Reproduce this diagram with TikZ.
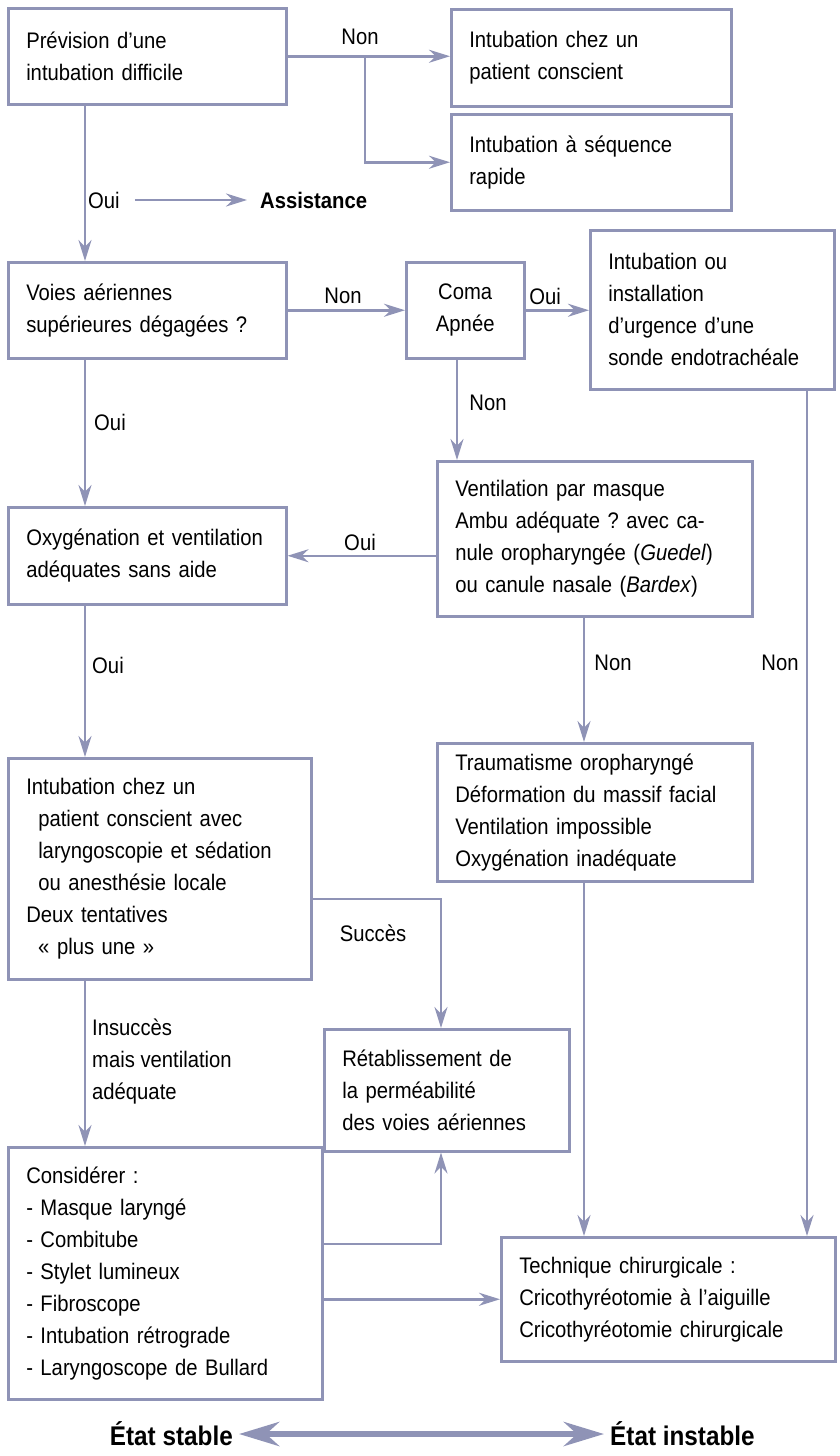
\documentclass[tikz,border=0pt]{standalone}
\usepackage{fontspec}
\setmainfont{Liberation Sans}[FakeStretch=0.9]
\usetikzlibrary{arrows.meta}
\definecolor{trait}{RGB}{143,147,182}
\frenchspacing

\begin{document}
\begin{tikzpicture}[x=1pt,y=1pt]
\tikzstyle{every node}+=[inner sep=0pt, font=\fontsize{22.5}{32}\selectfont]
\tikzstyle{boite}=[draw=trait, line width=2.5pt, anchor=north west, inner xsep=18pt, align=left]
\tikzstyle{ligne}=[draw=trait, line width=2.5pt]
\tikzstyle{fleche}=[ligne, -{Stealth[length=21pt,width=13pt]}]
\tikzstyle{gras}=[font=\bfseries\fontsize{22.5}{26}\selectfont]
\tikzstyle{etat}=[font=\bfseries\fontsize{27}{30}\selectfont]
\useasboundingbox (0,0) rectangle (839,-1456);
\node[boite, text width=242pt, minimum height=96pt] (prev) at (7,-7) {Prévision d’une\\intubation difficile};
\node[boite, text width=244pt, minimum height=97pt] (consc) at (450,-8) {Intubation chez un\\patient conscient};
\node[boite, text width=244pt, minimum height=96pt] (rapide) at (450,-113) {Intubation à séquence\\rapide};
\node[boite, text width=242pt, minimum height=96pt] (voies) at (7,-261) {Voies aériennes\\supérieures dégagées ?};
\node[boite, text width=82pt, minimum height=96pt, align=center] (coma) at (405,-261) {Coma\\Apnée};
\node[boite, text width=208pt, minimum height=159pt] (urg) at (589,-229) {Intubation ou\\installation\\d’urgence d’une\\sonde endotrachéale};
\node[boite, text width=279pt, minimum height=155pt] (ventil) at (436,-460) {Ventilation par masque\\Ambu adéquate ? avec ca-\\nule oropharyngée (\textit{Guedel})\\ou canule nasale (\textit{Bardex})};
\node[boite, text width=242pt, minimum height=97pt] (oxy) at (7,-506) {Oxygénation et ventilation\\adéquates sans aide};
\node[boite, text width=267pt, minimum height=221pt] (intub) at (7,-757) {Intubation chez un\\\hspace*{12pt}patient conscient avec\\\hspace*{12pt}laryngoscopie et sédation\\\hspace*{12pt}ou anesthésie locale\\Deux tentatives\\\hspace*{12pt}« plus une »};
\node[boite, text width=279pt, minimum height=138pt] (trauma) at (436,-742) {Traumatisme oropharyngé\\Déformation du massif facial\\Ventilation impossible\\Oxygénation inadéquate};
\node[boite, text width=209pt, minimum height=122pt] (retab) at (323,-1028) {Rétablissement de\\la perméabilité\\des voies aériennes};
\node[boite, text width=278pt, minimum height=252pt] (consid) at (7,-1146) {Considérer :\\- Masque laryngé\\- Combitube\\- Stylet lumineux\\- Fibroscope\\- Intubation rétrograde\\- Laryngoscope de Bullard};
\node[boite, text width=298pt, minimum height=124pt] (chir) at (500,-1236) {Technique chirurgicale :\\Cricothyréotomie à l’aiguille\\Cricothyréotomie chirurgicale};
\node (non1) at (360,-37) {Non};
\node[anchor=west] (oui1) at (88,-200) {Oui};
\node[gras, anchor=west] (assist) at (260,-200) {Assistance};
\node (non2) at (343,-296) {Non};
\node (oui2) at (545,-296) {Oui};
\node (non3) at (488,-403) {Non};
\node (oui3) at (110,-422) {Oui};
\node (oui4) at (360,-542) {Oui};
\node (oui5) at (108,-665) {Oui};
\node (non4) at (613,-663) {Non};
\node (non5) at (780,-663) {Non};
\node (succes) at (373,-933) {Succès};
\node[anchor=west, align=left] (insucc) at (92,-1062) {Insuccès\\mais ventilation\\adéquate};
\node[etat, anchor=east] (stable) at (233,-1434) {État stable};
\node[etat, anchor=west] (instable) at (610,-1434) {État instable};
\coordinate (axeA) at (85,0);
\coordinate (axeE) at (457,0);
\coordinate (axeG) at (584,0);
\coordinate (axeF) at (807,0);
\coordinate (fourche) at (365,0);
\coordinate (succ) at (441,-899);
\coordinate (retour) at (441,-1244);
\draw[fleche] (prev.east) -- (prev.east -| consc.west);
\draw[fleche] (prev.east -| fourche) |- (rapide.west);
\draw[fleche] (prev.south -| axeA) -- (voies.north -| axeA);
\draw[fleche, shorten <=15pt, shorten >=13pt] (oui1.east) -- (assist.west);
\draw[fleche] (voies.east) -- (voies.east -| coma.west);
\draw[fleche] (coma.east) -- (coma.east -| urg.west);
\draw[fleche] (coma.south -| axeE) -- (ventil.north -| axeE);
\draw[fleche] (ventil.west |- oxy) -- (oxy.east);
\draw[fleche] (voies.south -| axeA) -- (oxy.north -| axeA);
\draw[fleche] (oxy.south -| axeA) -- (intub.north -| axeA);
\draw[fleche] (ventil.south -| axeG) -- (trauma.north -| axeG);
\draw[fleche] (urg.south -| axeF) -- (chir.north -| axeF);
\draw[fleche] (intub.east |- succ) -- (succ) -- (retab.north -| succ);
\draw[fleche] (intub.south -| axeA) -- (consid.north -| axeA);
\draw[fleche] (consid.east |- retour) -- (retour) -- (retab.south -| retour);
\draw[fleche] (consid.east |- chir) -- (chir.west);
\draw[fleche] (trauma.south -| axeG) -- (chir.north -| axeG);
\draw[draw=trait, line width=6.5pt, {Stealth[length=40pt,width=24pt]}-{Stealth[length=40pt,width=24pt]}, shorten <=6pt, shorten >=6pt] (stable) -- (instable);
\end{tikzpicture}
\end{document}
